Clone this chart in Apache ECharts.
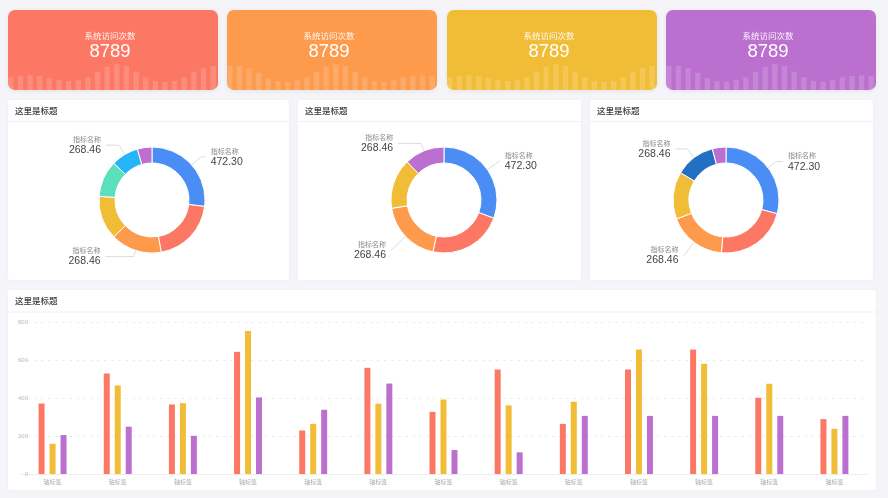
<!DOCTYPE html>
<html><head><meta charset="utf-8">
<script src="https://cdn.jsdelivr.net/npm/echarts@6/dist/echarts.min.js"></script>
<style>html,body{margin:0;padding:0;background:#f4f4f9;}#c{width:888px;height:498px;}</style>
</head><body><div id="c"></div><script>
// ---- data ----
const kpiTitles = ['系统访问次数', '系统访问次数', '系统访问次数', '系统访问次数'];
const kpiValues = ['8789', '8789', '8789', '8789'];
const kpiWaveA = [12.7, 14, 14.7, 14, 12, 10, 9, 10, 12.7, 18.3, 23.3, 25.7, 24, 18.3, 12.7, 9, 8, 9, 12.7, 18.3, 21.7, 24];
const kpiWaveB = [24.3, 24, 21.7, 17.3, 11.7, 9, 8, 10, 12.7, 18.3, 23.3, 25.7, 24, 18.3, 12.7, 9, 8, 10, 12.7, 14, 14.7, 14];
const kpiWaves = [kpiWaveA, kpiWaveB, kpiWaveA, kpiWaveB];

const panelTitles = ['这里是标题', '这里是标题', '这里是标题', '这里是标题'];

const donut1Values = [97, 73, 56, 48, 40, 30, 16];
const donut2Values = [110, 82, 69, 55, 44];
const donut3Values = [105, 80, 64, 52, 44, 15];
const donutLabelName = '指标名称';
const donut1Labels = ['472.30', null, '268.46', null, null, '268.46', null];
const donut2Labels = ['472.30', null, '268.46', null, '268.46'];
const donut3Labels = ['472.30', null, '268.46', null, '268.46', null];

const barCategories = ['轴标签', '轴标签', '轴标签', '轴标签', '轴标签', '轴标签', '轴标签', '轴标签', '轴标签', '轴标签', '轴标签', '轴标签', '轴标签'];
const barSeriesA = [371, 529, 366, 643, 229, 559, 327, 550, 264, 550, 655, 401, 289];
const barSeriesB = [159, 466, 373, 753, 264, 370, 392, 361, 380, 655, 580, 475, 238];
const barSeriesC = [205, 249, 201, 403, 338, 476, 126, 114, 306, 306, 306, 306, 306];

// ---- styles / layout ----
const CJK = '"Noto Sans CJK SC", "Noto Sans", sans-serif';
const NUM = '"Liberation Sans", Arial, sans-serif';
const kpiColors = ['#FD7765', '#FD9A4C', '#F2BD36', '#BB6FCE'];
const donut1Colors = ['#4A8EF5', '#FD7765', '#FD9A4C', '#F2BD36', '#5CDFBD', '#26B5F8', '#BB6FCE'];
const donut2Colors = ['#4A8EF5', '#FD7765', '#FD9A4C', '#F2BD36', '#BB6FCE'];
const donut3Colors = ['#4A8EF5', '#FD7765', '#FD9A4C', '#F2BD36', '#2170C2', '#BB6FCE'];
// label line [length, length2] per labelled slice
const donut1Lines = {0: [12, 5], 2: [6.5, 28], 5: [11, 13]};
const donut2Lines = {0: [15, 0], 2: [20, 0], 4: [8, 23]};
const donut3Lines = {0: [10, 7], 2: [16, 1], 4: [11, 12]};
const cardX = [8, 227, 447, 666];
const panelX = [[8, 289], [298, 581], [590, 873]];
const donutCx = [152, 444, 726];

const chart = echarts.init(document.getElementById('c'), null, {renderer: 'canvas'});

const graphic = [];
const grids = [], xAxes = [], yAxes = [], series = [];

kpiTitles.forEach((t, i) => {
  const x = cardX[i];
  graphic.push({type: 'rect', z: -10, shape: {x: x, y: 10, width: 210, height: 80, r: 7},
    style: {fill: kpiColors[i], shadowBlur: 4, shadowColor: 'rgba(0,0,0,0.08)', shadowOffsetY: 1}});
  graphic.push({type: 'text', z: 10, style: {text: t, x: x + 102, y: 35.5, align: 'center', verticalAlign: 'middle',
    fill: 'rgba(255,255,255,0.92)', font: '8.5px ' + CJK}});
  graphic.push({type: 'text', z: 10, style: {text: kpiValues[i], x: x + 102, y: 51.5, align: 'center', verticalAlign: 'middle',
    fill: '#ffffff', font: '18.5px ' + NUM}});
  grids.push({left: x - 2, top: 10, width: 212, height: 80});
  xAxes.push({type: 'category', gridIndex: i, data: kpiWaves[i].map((_, k) => k), show: false});
  yAxes.push({type: 'value', gridIndex: i, min: 0, max: 80, show: false});
  series.push({type: 'bar', xAxisIndex: i, yAxisIndex: i, data: kpiWaves[i], barWidth: 5.3, silent: true,
    itemStyle: {color: 'rgba(255,255,255,0.16)'}});
});

// donut panels
panelX.forEach((p, i) => {
  graphic.push({type: 'rect', z: -10, shape: {x: p[0], y: 100, width: p[1] - p[0], height: 180, r: 2},
    style: {fill: '#ffffff', shadowBlur: 3, shadowColor: 'rgba(0,0,0,0.04)'}});
  graphic.push({type: 'line', z: -9, shape: {x1: p[0], y1: 121.5, x2: p[1], y2: 121.5}, style: {stroke: '#f1f1f5', lineWidth: 1}});
  graphic.push({type: 'text', z: 10, style: {text: panelTitles[i], x: p[0] + 7, y: 111, verticalAlign: 'middle',
    fill: '#3a3a3a', font: '500 8.5px ' + CJK}});
});
// bar panel
graphic.push({type: 'rect', z: -10, shape: {x: 8, y: 290, width: 868, height: 200, r: 2},
  style: {fill: '#ffffff', shadowBlur: 3, shadowColor: 'rgba(0,0,0,0.04)'}});
graphic.push({type: 'line', z: -9, shape: {x1: 8, y1: 312, x2: 876, y2: 312}, style: {stroke: '#f1f1f5', lineWidth: 1}});
graphic.push({type: 'text', z: 10, style: {text: panelTitles[3], x: 15, y: 301, verticalAlign: 'middle',
  fill: '#3a3a3a', font: '500 8.5px ' + CJK}});

function donut(cx, vals, cols, labels, lines) {
  return {
    type: 'pie', center: [cx, 200], radius: [37, 53], startAngle: 90, clockwise: true,
    avoidLabelOverlap: false, silent: true,
    itemStyle: {borderColor: '#ffffff', borderWidth: 1},
    label: {show: false},
    labelLine: {show: false, length: 14, length2: 2, smooth: false, minTurnAngle: 0, lineStyle: {color: '#dcdcdc', width: 1}},
    data: vals.map((v, k) => {
      const item = {value: v, name: 'n' + k, itemStyle: {color: cols[k]}};
      if (labels[k]) {
        item.label = {show: true, distanceToLabelLine: 5,
          formatter: '{n|' + donutLabelName + '}\n{v|' + labels[k] + '}',
          rich: {
            n: {fontSize: 7, color: '#8a8a8a', fontFamily: CJK, lineHeight: 10},
            v: {fontSize: 10.5, color: '#444444', fontFamily: NUM, lineHeight: 12}
          }};
        item.labelLine = {show: true, length: lines[k][0], length2: lines[k][1]};
      }
      return item;
    })
  };
}
series.push(donut(donutCx[0], donut1Values, donut1Colors, donut1Labels, donut1Lines));
series.push(donut(donutCx[1], donut2Values, donut2Colors, donut2Labels, donut2Lines));
series.push(donut(donutCx[2], donut3Values, donut3Colors, donut3Labels, donut3Lines));

// bar chart
grids.push({left: 20, right: 21, top: 322, bottom: 24});
xAxes.push({type: 'category', gridIndex: 4, data: barCategories,
  axisLine: {lineStyle: {color: '#eeeeee'}}, axisTick: {show: false},
  axisLabel: {color: '#aaaaaa', fontSize: 6, fontFamily: CJK, margin: 5}});
yAxes.push({type: 'value', gridIndex: 4, min: 0, max: 800, interval: 200,
  axisLine: {show: false}, axisTick: {show: false},
  axisLabel: {color: '#bbbbbb', fontSize: 6, fontFamily: NUM, margin: -8},
  splitLine: {lineStyle: {color: '#eeeeee', type: [3, 4]}}});
[[barSeriesA, '#FD7765'], [barSeriesB, '#F2BD36'], [barSeriesC, '#BB6FCE']].forEach(([d, c]) => {
  series.push({type: 'bar', xAxisIndex: 4, yAxisIndex: 4, data: d, barWidth: 6, barGap: '83%', silent: true,
    itemStyle: {color: c}});
});

chart.setOption({
  animation: false,
  backgroundColor: '#f4f4f9',
  graphic: graphic,
  grid: grids, xAxis: xAxes, yAxis: yAxes, series: series
});
</script></body></html>
